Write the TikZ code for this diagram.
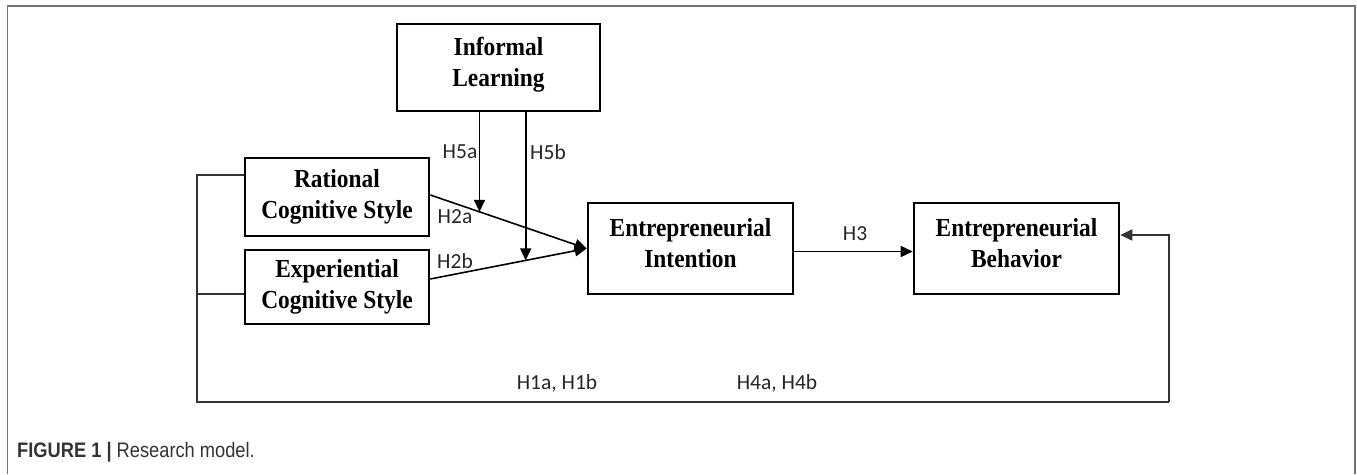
\documentclass[tikz,border=0pt]{standalone}
\usepackage{fontspec}
\setmainfont{Liberation Serif}
\newfontfamily\boxfont[FakeStretch=0.9]{Liberation Serif}
\newfontfamily\hypfont{Carlito}
\newfontfamily\capfont[FakeStretch=0.87]{Liberation Sans}
\usetikzlibrary{arrows.meta}
\usetikzlibrary{calc}

\begin{document}
\begin{tikzpicture}[
    x=1pt, y=-1pt,  % pixel-like units, y runs downwards
    box/.style={draw, line width=2.6pt, align=center, inner sep=0pt,
        font=\boxfont\fontsize{26}{31}\selectfont\bfseries, text=black},
    highbox/.style={box, text depth=11pt},  % text sits a bit above centre
    hyp/.style={font=\hypfont\fontsize{21.5}{24}\selectfont, text=black!85, inner sep=0pt},
    link/.style={line width=1.6pt, -{Triangle[length=12pt,width=11pt]}},
    loopline/.style={line width=1.8pt, draw=black!80}
]
    \useasboundingbox (0,0) rectangle (1357,474);

    % Figure frame
    \draw[draw=black!55, line width=1.5pt] (7.5,474) -- (7.5,6) -- (1355,6) -- (1355,474);

    % Define nodes of the model
    \node[highbox, minimum width=203pt, minimum height=87pt] (informal) at (498.5,67.5) {Informal\\Learning};
    \node[box, minimum width=184pt, minimum height=78pt] (rational) at (337,197) {Rational\\Cognitive Style};
    \node[box, minimum width=184pt, minimum height=74pt] (experiential) at (337,287) {Experiential\\Cognitive Style};
    \node[highbox, minimum width=205pt, minimum height=91pt] (intention) at (690.5,248.5) {Entrepreneurial\\Intention};
    \node[highbox, minimum width=205pt, minimum height=91pt] (behavior) at (1016.5,248.5) {Entrepreneurial\\Behavior};

    % Points where the paths meet
    \coordinate (rSrc) at ([yshift=2pt]rational.east);
    \coordinate (eSrc) at ([yshift=8pt]experiential.east);
    \coordinate (iTgt) at (intention.west);
    \coordinate (h5aTip) at ($(rSrc)!0.3145!(iTgt)$);
    \coordinate (h5bTip) at ($(eSrc)!0.61!(iTgt)$);
    \coordinate (expTap) at ([yshift=-7pt]experiential.west);
    \coordinate (loopBL) at (197,402);
    \coordinate (loopBR) at (1169,402);

    % Paths
    \draw[link] (rSrc) -- (iTgt);
    \draw[link] (eSrc) -- (iTgt);
    \draw[link] (informal.south -| h5aTip) -- (h5aTip);
    \draw[link] (informal.south -| h5bTip) -- (h5bTip);
    \draw[link] ([yshift=-3pt]intention.east) -- ([yshift=-3pt]behavior.west);
    \draw[loopline] ([yshift=22pt]rational.west) -| (loopBL) -- (loopBR);
    \draw[loopline] (expTap) -- (expTap -| loopBL);
    \draw[loopline, -{Triangle[length=12pt,width=11pt]}] (loopBR) |- ([yshift=13.5pt]behavior.east);

    % Hypothesis labels
    \node[hyp] (lblH5a) at (460,152) {H5a};
    \node[hyp] (lblH5b) at (548,152) {H5b};
    \node[hyp] (lblH2a) at (455,217) {H2a};
    \node[hyp] (lblH2b) at (455,261) {H2b};
    \node[hyp] (lblH3) at (855,234) {H3};
    \node[hyp] (lblH1) at (557,383) {H1a, H1b};
    \node[hyp] (lblH4) at (777,383) {H4a, H4b};

    % Caption
    \node[anchor=west, inner sep=0pt, text=black!80,
        font=\capfont\fontsize{21}{24}\selectfont] (caption) at (17,452)
        {\textbf{FIGURE 1 |} Research model.};

\end{tikzpicture}
\end{document}
